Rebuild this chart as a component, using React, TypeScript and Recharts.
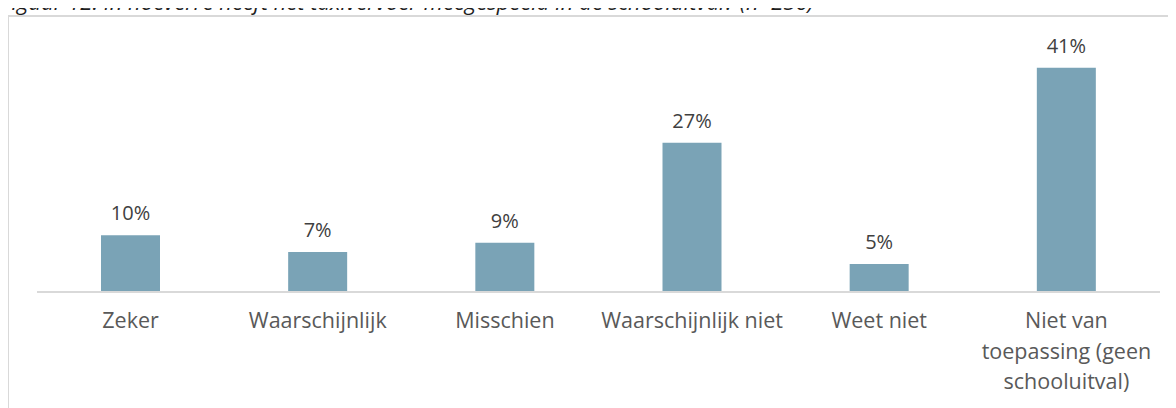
// Figuur 12 — bar chart of how much taxi transport played a role in school dropout.
import { BarChart, Bar, XAxis, YAxis, LabelList } from "recharts";

const TITLE =
  "Figuur 12: In hoeverre heeft het taxivervoer meegespeeld in de schooluitval? (n=236)";

// Category labels; "\n" marks where the original wraps the label.
const categories = [
  "Zeker",
  "Waarschijnlijk",
  "Misschien",
  "Waarschijnlijk niet",
  "Weet niet",
  "Niet van\ntoepassing (geen\nschooluitval)",
];

// Percentages.
const values = [10.4, 7.3, 9.0, 27.3, 5.1, 41.0];

const BAR = "#7AA3B6";
const AXIS = "#D9D9D9";
const TICK = "#595959";
const LABEL = "#404040";
const FONT = "'Open Sans', 'Noto Sans', sans-serif";

const data = categories.map((name, i) => ({ name, value: values[i] }));

function WrappedTick({ x, y, payload }: any) {
  const lines = String(payload.value).split("\n");
  return (
    <text
      x={x}
      y={y}
      textAnchor="middle"
      fill={TICK}
      fontSize={21.5}
      fontFamily={FONT}
    >
      {lines.map((line, i) => (
        <tspan key={i} x={x} dy={i === 0 ? 28 : 30.5}>
          {line}
        </tspan>
      ))}
    </text>
  );
}

export default function App() {
  return (
    <div
      style={{
        position: "relative",
        width: 1176,
        height: 408,
        margin: "-8px 0 0 -8px",
        overflow: "hidden",
        background: "#fff",
      }}
    >
      <div
        style={{
          position: "absolute",
          left: 1,
          top: -14,
          fontFamily: FONT,
          fontStyle: "italic",
          fontSize: 22,
          color: "#1f1f1f",
          whiteSpace: "nowrap",
        }}
      >
        {TITLE}
      </div>
      <div
        style={{
          position: "absolute",
          left: 7,
          top: 15,
          width: 1180,
          height: 410,
          border: `2px solid ${AXIS}`,
          boxSizing: "border-box",
        }}
      />
      <div style={{ position: "absolute", left: 0, top: 0 }}>
        <BarChart
          width={1176}
          height={408}
          data={data}
          margin={{ top: 46, right: 16, bottom: 0, left: 37 }}
        >
          <XAxis
            dataKey="name"
            height={116}
            interval={0}
            tickLine={false}
            axisLine={{ stroke: AXIS, strokeWidth: 2 }}
            tick={<WrappedTick />}
          />
          <YAxis hide domain={[0, 45]} />
          <Bar dataKey="value" fill={BAR} barSize={59} isAnimationActive={false}>
            <LabelList
              dataKey="value"
              position="top"
              offset={15}
              formatter={(v: any) => `${Math.round(Number(v))}%`}
              fill={LABEL}
              fontSize={20}
              fontFamily={FONT}
            />
          </Bar>
        </BarChart>
      </div>
    </div>
  );
}
